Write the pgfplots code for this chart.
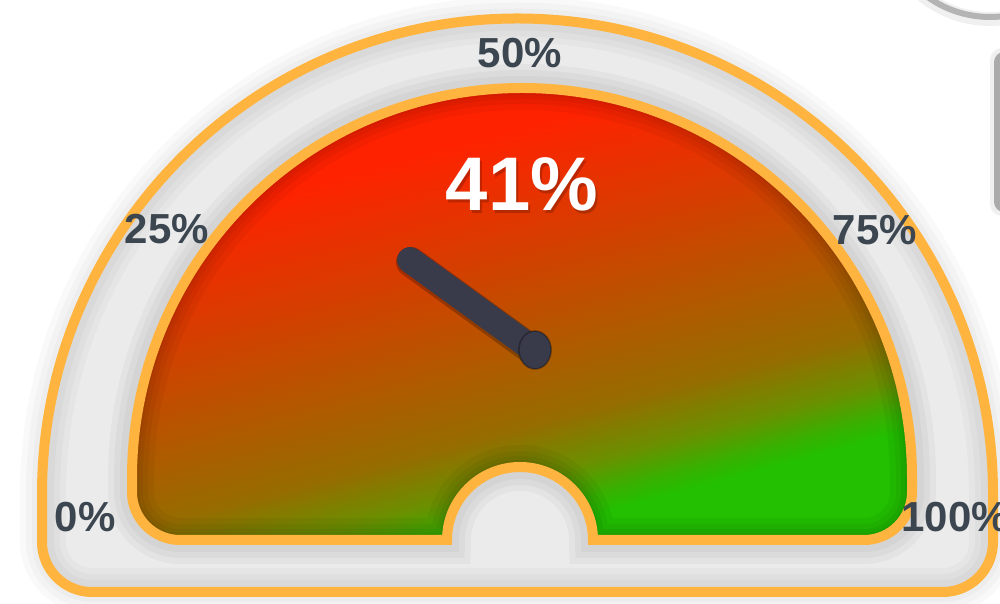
\documentclass[border=0pt]{standalone}
\usepackage{fontspec}
\setmainfont{Liberation Sans}
\usepackage{pgfplots}
\pgfplotsset{compat=1.18}

\definecolor{band}{HTML}{EBEBEB}
\definecolor{rim}{HTML}{FFB43F}
\definecolor{lbl}{HTML}{3C4650}
\definecolor{needle}{HTML}{393A4A}
\definecolor{side}{HTML}{B4B4B4}
\definecolor{g1}{HTML}{FF2200}
\definecolor{g2}{HTML}{D83C00}
\definecolor{g3}{HTML}{B05A00}
\definecolor{g4}{HTML}{966C00}
\definecolor{g5}{HTML}{6A9000}
\definecolor{g6}{HTML}{38B000}
\definecolor{g7}{HTML}{22C000}

\pgfdeclareverticalshading{gauge}{100bp}{color(0bp)=(g7); color(29.5bp)=(g7);
  color(31.5bp)=(g6); color(34.5bp)=(g5); color(39.5bp)=(g4); color(46.25bp)=(g3);
  color(56.9bp)=(g2); color(67.6bp)=(g1); color(100bp)=(g1)}

% shapes in pixel units (1 unit = 0.5pt), y measured upward
\def\outerpath{(42,110) arc[start angle=180,end angle=0,radius=237.75pt]
  -- (993,62) arc[start angle=0,end angle=-90,radius=25pt]
  -- (92,12) arc[start angle=270,end angle=180,radius=25pt] -- cycle}
\def\innerpath{(132,126) arc[start angle=180,end angle=0,radius=195pt]
  -- (912,112) arc[start angle=0,end angle=-90,radius=24pt]
  -- (593,64) arc[start angle=0,end angle=180,radius=36.5pt]
  -- (180,64) arc[start angle=270,end angle=180,radius=24pt] -- cycle}

\newcommand{\tl}[1]{\fontsize{21pt}{21pt}\selectfont\bfseries #1}

\begin{document}
\begin{tikzpicture}
\begin{axis}[
    name=ax,
    x=0.5pt, y=0.5pt,
    xmin=0, xmax=1000, ymin=0, ymax=604,
    axis lines=none, ticks=none,
    clip=false,
  ]
  % neighbouring widgets at the right edge
  \draw[black, opacity=0.06, line width=7pt] (990,692) circle[radius=53.5pt];
  \draw[side, line width=3pt] (990,694) circle[radius=53.5pt];
  \fill[black, opacity=0.06, rounded corners=6pt] (990,388) rectangle (1040,556);
  \fill[side!95!black, rounded corners=5pt] (994,392) rectangle (1040,552);

  % soft shadow round the gauge
  \draw[black, opacity=0.025, line width=22pt] \outerpath;
  \draw[black, opacity=0.025, line width=16pt] \outerpath;
  \draw[black, opacity=0.025, line width=10pt] \outerpath;
  \fill[band] \outerpath;
  \begin{scope}
    \clip \outerpath;
    \draw[black, opacity=0.025, line width=24pt] \outerpath;
    \draw[black, opacity=0.025, line width=18pt] \outerpath;
    \draw[black, opacity=0.025, line width=12pt] \outerpath;
    \draw[black, opacity=0.03, line width=24pt] \innerpath;
    \draw[black, opacity=0.03, line width=18pt] \innerpath;
    \draw[black, opacity=0.03, line width=12pt] \innerpath;
  \end{scope}

  % coloured face
  \shade[shading=gauge, shading angle=15] \innerpath;
  \begin{scope}
    \clip \innerpath;
    \draw[black, opacity=0.045, line width=22pt] \innerpath;
    \draw[black, opacity=0.045, line width=16pt] \innerpath;
    \draw[black, opacity=0.045, line width=11pt] \innerpath;
    \draw[black, opacity=0.045, line width=7pt] \innerpath;
  \end{scope}

  \draw[rim, line width=5pt] \outerpath;
  \draw[rim, line width=5pt] \innerpath;

  % scale labels
  \node[lbl] at (85,87)   {\tl{0\%}};
  \node[lbl] at (167,375) {\tl{25\%}};
  \node[lbl] at (520,551) {\tl{50\%}};
  \node[lbl] at (875,374) {\tl{75\%}};
  \node[lbl] at (955,87)  {\tl{100\%}};

  % value
  \node[black, opacity=0.2] at (524,417) {\fontsize{38pt}{38pt}\selectfont\bfseries 41\%};
  \node[white] at (522,420) {\fontsize{38pt}{38pt}\selectfont\bfseries 41\%};

  % needle
  \addplot[black, opacity=0.25, line width=15pt, line cap=round, no marks]
    coordinates {(411,342) (531,255)};
  \addplot[needle, line width=13pt, line cap=round, no marks]
    coordinates {(410,344) (530,257)};
  \addplot[only marks, mark=*, mark size=9.5pt,
    mark options={fill=needle, draw=black, draw opacity=0.3, line width=0.8pt,
      xscale=0.85, rotate=-35}]
    coordinates {(535,254)};
\end{axis}
\pgfresetboundingbox
\path (ax.south west) rectangle (ax.north east);
\end{tikzpicture}
\end{document}
